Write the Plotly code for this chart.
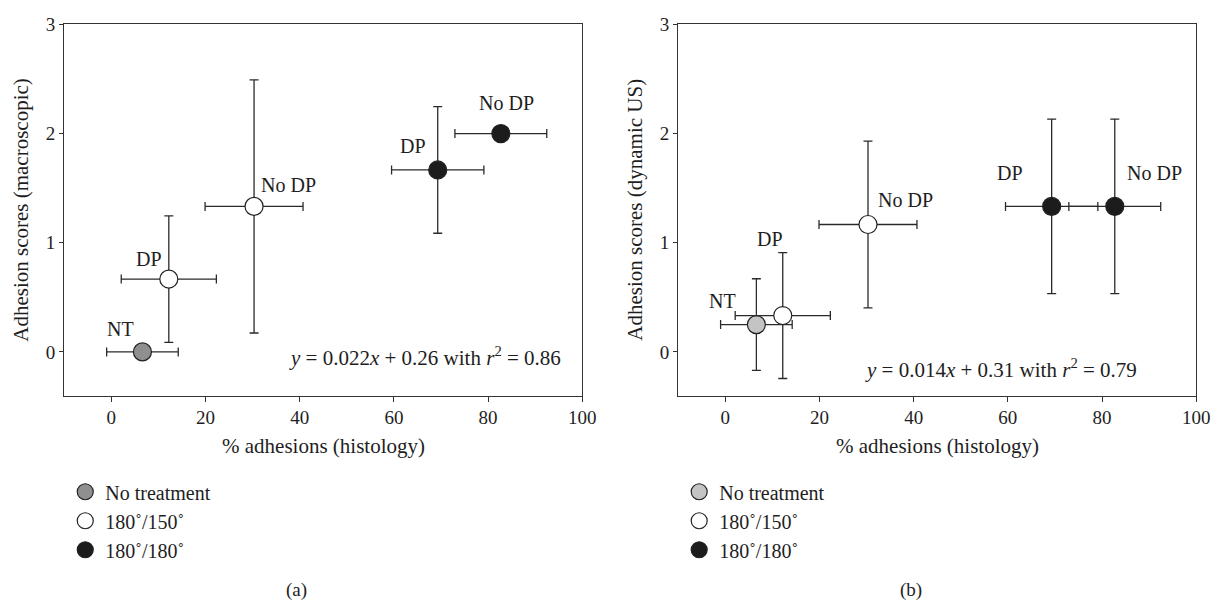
import plotly.graph_objects as go

W, H = 1232, 606

groups = ["No treatment", "180˚/150˚", "180˚/180˚"]

# x values (% adhesions, histology) and x errors, per group
x_nt, xe_nt = [6.6], [7.6]
x_150, xe_150 = [12.2, 30.3], [10.1, 10.4]
x_180, xe_180 = [69.3, 82.7], [9.8, 9.75]

# panel (a): macroscopic scores
ya_nt, yea_nt = [0.0], [0.0]
ya_150, yea_150 = [0.667, 1.333], [0.58, 1.16]
ya_180, yea_180 = [1.667, 2.0], [0.58, 0.0]

# panel (b): dynamic US scores
yb_nt, yeb_nt = [0.25], [0.42]
yb_150, yeb_150 = [0.333, 1.167], [0.577, 0.764]
yb_180, yeb_180 = [1.333, 1.333], [0.8, 0.8]

# point labels (text, x, y)
labels_a = [("NT", 1.9, 0.21), ("DP", 7.9, 0.85), ("No DP", 37.6, 1.53),
            ("DP", 64.1, 1.89), ("No DP", 84.0, 2.28)]
labels_b = [("NT", -0.6, 0.47), ("DP", 9.4, 1.03), ("No DP", 38.3, 1.39),
            ("DP", 60.5, 1.64), ("No DP", 91.1, 1.64)]

eq_a = ("<i>y</i> = 0.022<i>x</i> + 0.26 with <i>r</i><sup>2</sup> = 0.86", 66.6, -0.045)
eq_b = ("<i>y</i> = 0.014<i>x</i> + 0.31 with <i>r</i><sup>2</sup> = 0.79", 58.5, -0.15)

xticks = [0, 20, 40, 60, 80, 100]
yticks = [0, 1, 2, 3]

FONT = "Liberation Serif, Times New Roman, serif"
INK = "#2a2a2a"
TXT = "#1e1e1e"
fill_a = ["#8f8f8f", "#ffffff", "#1c1c1c"]
fill_b = ["#c4c4c4", "#ffffff", "#1c1c1c"]

fig = go.Figure()

def add_group(name, xs, xes, ys, yes, color, xa, ya, leg):
    fig.add_trace(go.Scatter(
        x=xs, y=ys, mode="markers", name=name, legend=leg,
        xaxis=xa, yaxis=ya,
        marker=dict(size=18, color=color, line=dict(color="#222222", width=1.2)),
        error_x=dict(type="data", array=xes, color=INK, thickness=1.3, width=4.5),
        error_y=dict(type="data", array=yes, color=INK, thickness=1.3, width=4.5),
    ))

add_group(groups[0], x_nt, xe_nt, ya_nt, yea_nt, fill_a[0], "x", "y", "legend")
add_group(groups[1], x_150, xe_150, ya_150, yea_150, fill_a[1], "x", "y", "legend")
add_group(groups[2], x_180, xe_180, ya_180, yea_180, fill_a[2], "x", "y", "legend")
add_group(groups[0], x_nt, xe_nt, yb_nt, yeb_nt, fill_b[0], "x2", "y2", "legend2")
add_group(groups[1], x_150, xe_150, yb_150, yeb_150, fill_b[1], "x2", "y2", "legend2")
add_group(groups[2], x_180, xe_180, yb_180, yeb_180, fill_b[2], "x2", "y2", "legend2")

top_px, bot_px = 14.7, 392
ydom = [(H - bot_px) / H, (H - top_px) / H]
xdom_a = [65 / W, 589 / W]
xdom_b = [686 / W, 1210 / W]

axis_common = dict(showgrid=False, zeroline=False, showline=True, mirror=True,
                   linecolor="#333333", linewidth=1.3, ticks="outside",
                   tickcolor="#333333", tickwidth=1.3,
                   tickfont=dict(family=FONT, size=19, color=TXT))

leg_common = dict(xanchor="left", yanchor="top", font=dict(family=FONT, size=20, color=TXT),
                  tracegroupgap=0, bgcolor="rgba(0,0,0,0)", itemwidth=30)

fig.update_layout(
    width=W, height=H, margin=dict(l=0, r=0, t=0, b=0),
    paper_bgcolor="white", plot_bgcolor="white",
    font=dict(family=FONT, size=20, color=TXT),
    xaxis=dict(domain=xdom_a, range=[-10, 100], tickvals=xticks, ticklen=5, anchor="y", **axis_common),
    yaxis=dict(domain=ydom, range=[-0.4, 3], tickvals=yticks, ticklen=4, anchor="x", **axis_common),
    xaxis2=dict(domain=xdom_b, range=[-10, 100], tickvals=xticks, ticklen=5, anchor="y2", **axis_common),
    yaxis2=dict(domain=ydom, range=[-0.4, 3], tickvals=yticks, ticklen=4, anchor="x2", **axis_common),
    legend=dict(x=66 / W, y=(H - 470) / H, **leg_common),
    legend2=dict(x=687 / W, y=(H - 470) / H, **leg_common),
    showlegend=True,
)

ann = []
for t, x, y in labels_a:
    ann.append(dict(text=t, x=x, y=y, xref="x", yref="y", showarrow=False,
                    xanchor="center", yanchor="middle",
                    font=dict(family=FONT, size=20, color=TXT)))
for t, x, y in labels_b:
    ann.append(dict(text=t, x=x, y=y, xref="x2", yref="y2", showarrow=False,
                    xanchor="center", yanchor="middle",
                    font=dict(family=FONT, size=20, color=TXT)))
ann.append(dict(text=eq_a[0], x=eq_a[1], y=eq_a[2], xref="x", yref="y", showarrow=False,
                xanchor="center", yanchor="middle", font=dict(family=FONT, size=21, color=TXT)))
ann.append(dict(text=eq_b[0], x=eq_b[1], y=eq_b[2], xref="x2", yref="y2", showarrow=False,
                xanchor="center", yanchor="middle", font=dict(family=FONT, size=21, color=TXT)))

# axis titles
for xd, ytitle in [(xdom_a, "Adhesion scores (macroscopic)"), (xdom_b, "Adhesion scores (dynamic US)")]:
    cx = (xd[0] + xd[1]) / 2
    ann.append(dict(text="% adhesions (histology)", x=cx, y=(H - 443) / H, xref="paper", yref="paper",
                    xanchor="center", yanchor="middle", showarrow=False,
                    font=dict(family=FONT, size=21, color=TXT)))
    ann.append(dict(text=ytitle, x=(xd[0] * W - 44) / W, y=(ydom[0] + ydom[1]) / 2,
                    xref="paper", yref="paper", textangle=-90, showarrow=False,
                    xanchor="center", yanchor="middle",
                    font=dict(family=FONT, size=21, color=TXT)))
ann.append(dict(text="(a)", x=300 / W, y=(H - 590) / H, xref="paper", yref="paper",
                xanchor="center", yanchor="middle",
                showarrow=False, font=dict(family=FONT, size=19, color=TXT)))
ann.append(dict(text="(b)", x=921 / W, y=(H - 590) / H, xref="paper", yref="paper",
                xanchor="center", yanchor="middle",
                showarrow=False, font=dict(family=FONT, size=19, color=TXT)))
fig.update_layout(annotations=ann)

fig.write_html("out.html")
